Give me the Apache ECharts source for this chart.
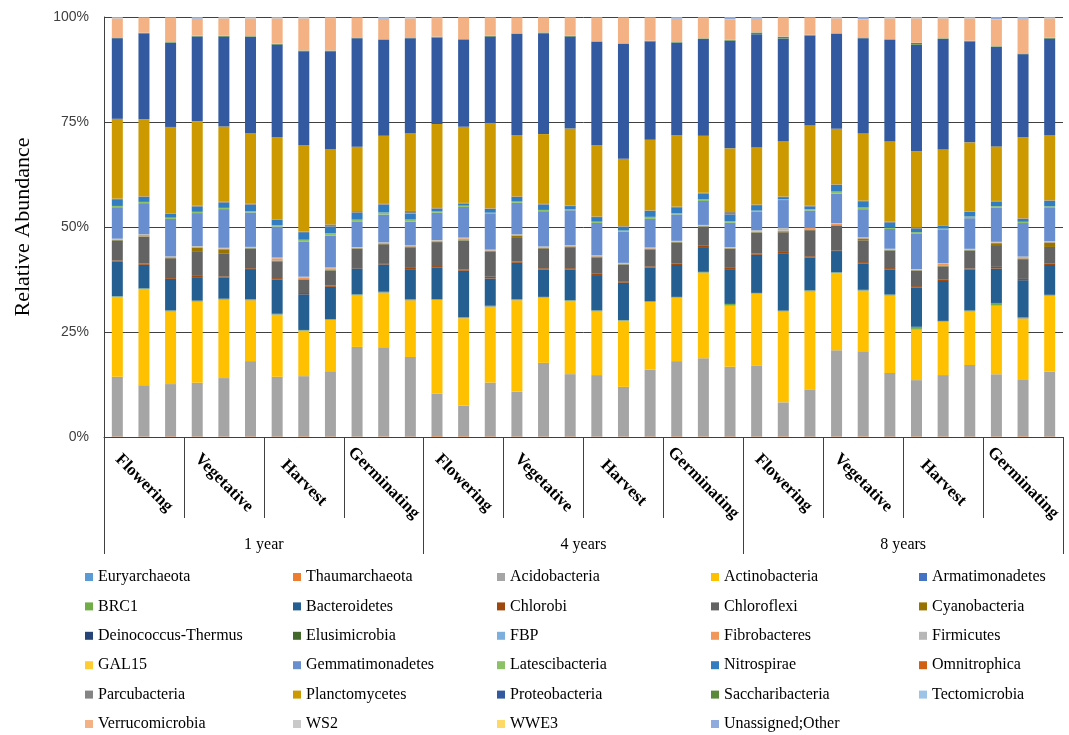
<!DOCTYPE html>
<html>
<head>
<meta charset="utf-8">
<title>Relative Abundance of bacterial phyla</title>
<script src="https://cdn.jsdelivr.net/npm/echarts@6/dist/echarts.min.js"></script>
<style>
  html, body { margin: 0; padding: 0; background: #ffffff; }
  #chart { width: 1069px; height: 735px; }
</style>
</head>
<body>
<div id="chart"></div>
<script>
// Samples: 3 stand ages x 4 growth stages x 3 replicates
const years = ['1 year', '4 years', '8 years'];
const stages = ['Flowering', 'Vegetative', 'Harvest', 'Germinating'];
const replicates = ['1', '2', '3'];
const yTicks = [0, 25, 50, 75, 100];

// Relative abundance (%) of each phylum, one value per sample (36 samples)
const Euryarchaeota = [0.05,0.04,0.06,0.05,0.03,0.05,0.04,0.06,0.05,0.04,0.05,0.05, 0.06,0.05,0.04,0.05,0.05,0.06,0.05,0.04,0.05,0.05,0.06,0.05, 0.05,0.04,0.05,0.06,0.05,0.05,0.04,0.05,0.05,0.06,0.05,0.04];
const Thaumarchaeota = [0.10,0.08,0.12,0.10,0.09,0.11,0.10,0.12,0.10,0.08,0.10,0.09, 0.15,0.14,0.12,0.10,0.09,0.10,0.08,0.09,0.10,0.12,0.10,0.11, 0.10,0.12,0.09,0.10,0.11,0.10,0.12,0.10,0.09,0.10,0.13,0.10];
const Acidobacteria = [14.2,12.2,12.4,12.8,13.9,17.9,14.2,14.3,15.5,21.3,21.2,18.9, 10.1,7.3,12.8,10.6,17.5,14.8,14.6,11.8,15.9,17.9,18.6,16.6, 16.8,8.1,11.2,20.5,20.3,15.1,13.4,14.6,17.0,14.8,13.4,15.4];
const Actinobacteria = [19.0,22.9,17.3,19.4,18.7,14.5,14.8,10.8,12.2,12.3,13.0,13.5, 22.3,20.8,18.1,21.8,15.5,17.4,15.2,15.7,16.1,15.1,20.4,14.6, 17.2,21.7,23.4,18.4,14.4,18.5,12.1,12.7,12.8,16.4,14.7,18.1];
const Armatimonadetes = [0.10,0.08,0.10,0.09,0.10,0.11,0.10,0.09,0.10,0.08,0.10,0.10, 0.09,0.10,0.11,0.10,0.09,0.10,0.10,0.09,0.10,0.10,0.08,0.10, 0.10,0.09,0.10,0.11,0.10,0.09,0.10,0.10,0.09,0.10,0.10,0.11];
const BRC1 = [0.10,0.09,0.10,0.10,0.08,0.10,0.11,0.10,0.09,0.10,0.10,0.09, 0.10,0.10,0.09,0.10,0.10,0.11,0.10,0.09,0.10,0.10,0.10,0.30, 0.10,0.09,0.10,0.10,0.11,0.10,0.50,0.10,0.09,0.50,0.10,0.10];
const Bacteroidetes = [8.2,5.6,7.5,5.6,5.0,7.2,8.2,8.5,7.7,6.2,6.5,7.2, 7.6,11.1,6.5,8.7,6.5,7.3,8.4,8.9,8.0,7.6,5.9,8.3, 9.1,13.7,7.8,4.8,6.3,6.0,9.4,9.5,9.7,8.2,8.9,7.1];
const Chlorobi = [0.3,0.3,0.2,0.3,0.3,0.2,0.3,0.3,0.3,0.3,0.3,0.3, 0.3,0.3,0.4,0.3,0.3,0.3,0.3,0.2,0.3,0.3,0.3,0.3, 0.3,0.3,0.3,0.3,0.3,0.3,0.3,0.3,0.3,0.4,0.3,0.3];
const Chloroflexi = [4.7,6.3,4.7,5.9,5.5,4.6,4.0,3.1,3.5,4.3,4.5,4.9, 5.7,6.8,6.0,5.6,4.7,5.0,3.9,4.0,4.0,5.0,4.5,4.5, 4.9,4.7,6.2,5.9,5.2,4.1,3.6,3.1,4.2,5.2,4.7,4.0];
const Cyanobacteria = [0.1,0.1,0.1,0.8,0.9,0.1,0.1,0.1,0.1,0.1,0.1,0.1, 0.1,0.1,0.1,0.5,0.1,0.1,0.1,0.1,0.1,0.1,0.1,0.1, 0.1,0.1,0.1,0.1,0.1,0.1,0.1,0.1,0.1,0.4,0.1,1.0];
const DeinococcusThermus = [0.03,0.02,0.03,0.03,0.02,0.03,0.03,0.04,0.03,0.02,0.03,0.03, 0.03,0.02,0.03,0.03,0.03,0.02,0.03,0.03,0.04,0.03,0.03,0.02, 0.03,0.08,0.03,0.03,0.02,0.03,0.03,0.03,0.02,0.03,0.03,0.03];
const Elusimicrobia = [0.05,0.04,0.05,0.05,0.06,0.05,0.05,0.04,0.05,0.05,0.05,0.06, 0.05,0.05,0.04,0.05,0.05,0.05,0.06,0.05,0.05,0.04,0.05,0.05, 0.05,0.05,0.06,0.05,0.30,0.05,0.05,0.04,0.05,0.05,0.05,0.05];
const FBP = [0.03,0.03,0.02,0.03,0.03,0.03,0.04,0.03,0.03,0.03,0.02,0.03, 0.03,0.03,0.03,0.02,0.03,0.03,0.03,0.04,0.03,0.03,0.03,0.03, 0.02,0.03,0.03,0.03,0.03,0.04,0.03,0.03,0.03,0.03,0.02,0.03];
const Fibrobacteres = [0.10,0.30,0.08,0.10,0.12,0.10,0.50,0.40,0.40,0.10,0.09,0.10, 0.10,0.40,0.10,0.08,0.10,0.12,0.10,0.10,0.10,0.09,0.10,0.10, 0.10,0.10,0.30,0.30,0.10,0.12,0.10,0.50,0.10,0.10,0.09,0.10];
const Firmicutes = [0.15,0.15,0.14,0.15,0.16,0.15,0.15,0.14,0.15,0.15,0.15,0.16, 0.15,0.14,0.15,0.15,0.15,0.15,0.16,0.15,0.15,0.14,0.15,0.15, 0.30,0.60,0.15,0.15,0.14,0.15,0.15,0.15,0.16,0.15,0.30,0.15];
const GAL15 = [0.02,0.02,0.02,0.03,0.02,0.02,0.02,0.02,0.03,0.02,0.02,0.02, 0.02,0.03,0.02,0.02,0.02,0.02,0.02,0.03,0.02,0.02,0.02,0.02, 0.02,0.02,0.02,0.03,0.02,0.02,0.02,0.02,0.02,0.02,0.03,0.02];
const Gemmatimonadetes = [7.5,7.4,8.9,7.9,9.2,8.2,7.4,8.4,7.6,6.1,6.6,5.6, 6.5,7.3,8.5,7.5,8.4,8.3,7.7,7.4,6.8,6.3,5.7,5.8, 4.4,6.7,4.0,7.0,6.7,4.7,8.5,7.9,7.3,8.1,8.0,7.9];
const Latescibacteria = [0.3,0.3,0.3,0.3,0.3,0.3,0.3,0.4,0.6,0.4,0.5,0.5, 0.3,0.3,0.3,0.3,0.3,0.3,0.3,0.3,0.5,0.3,0.4,0.4, 0.3,0.2,0.3,0.5,0.4,0.3,0.3,0.3,0.4,0.4,0.3,0.4];
const Nitrospirae = [1.6,1.2,0.9,1.3,1.3,1.6,1.3,1.8,1.6,1.6,1.9,1.4, 0.7,0.5,0.9,1.1,1.3,0.7,1.1,0.9,1.4,1.4,1.4,1.6, 1.3,0.5,0.7,1.6,1.5,1.3,0.9,0.7,1.1,1.1,0.7,1.3];
const Omnitrophica = [0.05,0.05,0.04,0.05,0.05,0.06,0.05,0.05,0.05,0.04,0.05,0.05, 0.05,0.06,0.05,0.05,0.04,0.05,0.05,0.05,0.05,0.06,0.05,0.05, 0.05,0.05,0.04,0.05,0.05,0.05,0.06,0.05,0.05,0.05,0.05,0.04];
const Parcubacteria = [0.10,0.10,0.12,0.10,0.09,0.10,0.10,0.10,0.40,0.40,0.10,0.60, 0.10,0.11,0.10,0.10,0.10,0.09,0.10,0.10,0.10,0.10,0.12,0.50, 0.10,0.10,0.10,0.09,0.10,0.10,0.10,0.11,0.10,0.10,0.10,0.10];
const Planctomycetes = [19.0,18.3,20.5,20.2,17.9,16.8,19.6,20.6,17.9,15.3,16.2,18.5, 20.0,18.1,20.3,14.6,16.6,18.3,17.0,16.0,16.8,17.0,13.6,15.2, 13.6,13.1,19.1,13.2,16.0,19.1,18.2,18.0,16.4,13.0,19.3,15.4];
const Proteobacteria = [19.2,20.4,20.0,20.2,21.4,22.9,22.0,22.3,23.3,25.8,22.8,22.6, 20.6,20.7,20.6,24.0,24.0,21.9,24.5,27.3,23.4,22.0,23.0,25.7, 27.0,24.6,21.4,22.6,22.7,24.2,25.4,26.3,24.0,23.7,19.8,23.1];
const Saccharibacteria = [0.15,0.15,0.14,0.15,0.15,0.16,0.15,0.15,0.15,0.14,0.15,0.15, 0.15,0.15,0.16,0.15,0.15,0.15,0.15,0.14,0.15,0.15,0.15,0.15, 0.40,0.40,0.15,0.15,0.15,0.16,0.40,0.15,0.15,0.15,0.15,0.14];
const Tectomicrobia = [0.05,0.05,0.04,0.05,0.05,0.05,0.06,0.05,0.05,0.05,0.05,0.04, 0.05,0.05,0.05,0.06,0.05,0.05,0.05,0.04,0.05,0.05,0.05,0.05, 0.05,0.06,0.05,0.05,0.05,0.04,0.05,0.05,0.05,0.05,0.06,0.05];
const Verrucomicrobia = [4.5,3.5,5.7,4.0,4.1,4.2,6.0,7.6,7.7,4.7,4.8,4.5, 4.4,5.0,4.2,3.7,3.4,4.2,5.5,6.0,5.4,5.5,4.8,4.9, 3.2,4.4,4.0,3.5,4.3,4.9,5.8,4.7,5.3,6.4,8.2,4.6];
const WS2 = [0.03,0.03,0.03,0.02,0.03,0.03,0.03,0.03,0.04,0.03,0.03,0.03, 0.03,0.02,0.03,0.03,0.03,0.03,0.03,0.03,0.03,0.04,0.03,0.03, 0.03,0.03,0.02,0.03,0.03,0.03,0.03,0.03,0.03,0.03,0.03,0.02];
const WWE3 = [0.02,0.02,0.02,0.02,0.03,0.02,0.02,0.02,0.02,0.02,0.02,0.02, 0.03,0.02,0.02,0.02,0.02,0.02,0.02,0.02,0.02,0.02,0.03,0.02, 0.02,0.02,0.02,0.02,0.02,0.03,0.02,0.02,0.02,0.02,0.02,0.02];
const UnassignedOther = [0.3,0.2,0.2,0.4,0.3,0.3,0.3,0.3,0.2,0.1,0.4,0.3, 0.2,0.2,0.2,0.1,0.2,0.2,0.2,0.2,0.2,0.4,0.2,0.5, 0.4,0.2,0.2,0.3,0.5,0.3,0.3,0.3,0.3,0.5,0.4,0.3];

// Stacking order (bottom to top) and legend order
const phyla = [
  ['Euryarchaeota', Euryarchaeota, '#5B9BD5'],
  ['Thaumarchaeota', Thaumarchaeota, '#ED7D31'],
  ['Acidobacteria', Acidobacteria, '#A5A5A5'],
  ['Actinobacteria', Actinobacteria, '#FFC000'],
  ['Armatimonadetes', Armatimonadetes, '#4472C4'],
  ['BRC1', BRC1, '#70AD47'],
  ['Bacteroidetes', Bacteroidetes, '#255E91'],
  ['Chlorobi', Chlorobi, '#9E480E'],
  ['Chloroflexi', Chloroflexi, '#636363'],
  ['Cyanobacteria', Cyanobacteria, '#997300'],
  ['Deinococcus-Thermus', DeinococcusThermus, '#264478'],
  ['Elusimicrobia', Elusimicrobia, '#43682B'],
  ['FBP', FBP, '#7CAFDD'],
  ['Fibrobacteres', Fibrobacteres, '#F1975A'],
  ['Firmicutes', Firmicutes, '#B7B7B7'],
  ['GAL15', GAL15, '#FFCD33'],
  ['Gemmatimonadetes', Gemmatimonadetes, '#698ED0'],
  ['Latescibacteria', Latescibacteria, '#8CC168'],
  ['Nitrospirae', Nitrospirae, '#327DC2'],
  ['Omnitrophica', Omnitrophica, '#D26012'],
  ['Parcubacteria', Parcubacteria, '#848484'],
  ['Planctomycetes', Planctomycetes, '#CC9A00'],
  ['Proteobacteria', Proteobacteria, '#335AA1'],
  ['Saccharibacteria', Saccharibacteria, '#5A8A39'],
  ['Tectomicrobia', Tectomicrobia, '#9DC3E6'],
  ['Verrucomicrobia', Verrucomicrobia, '#F4B183'],
  ['WS2', WS2, '#C9C9C9'],
  ['WWE3', WWE3, '#FFD966'],
  ['Unassigned;Other', UnassignedOther, '#8FAADC']
];

// Category lists for the three x-axis levels
const sampleCats = [];
const stageCats = [];
years.forEach(function (y) {
  stages.forEach(function (s) {
    stageCats.push(s + ' (' + y + ')');
    replicates.forEach(function (r) { sampleCats.push(y + ' ' + s + ' ' + r); });
  });
});

// 100% stacked columns: each sample is scaled to its own total
const totals = sampleCats.map(function (_, i) {
  return phyla.reduce(function (acc, p) { return acc + p[1][i]; }, 0);
});

const serif = 'Liberation Serif, Times New Roman, serif';
const axisColor = '#404040';

const series = phyla.map(function (p) {
  return {
    name: p[0],
    type: 'bar',
    stack: 'abundance',
    xAxisIndex: 0,
    barWidth: 11,
    itemStyle: { color: p[2] },
    emphasis: { disabled: true },
    data: p[1].map(function (v, i) { return v / totals[i] * 100; })
  };
});

// Legend laid out in five columns, filled row by row
const legendCols = 5;
const legendLeft = [85, 293, 497, 711, 919];
const legends = legendLeft.map(function (x, c) {
  const names = phyla.filter(function (_, k) { return k % legendCols === c; })
                     .map(function (p) { return p[0]; });
  return {
    type: 'plain',
    orient: 'vertical',
    left: x,
    top: 567,
    width: 200,
    height: 200,
    data: names,
    icon: 'rect',
    itemWidth: 8,
    itemHeight: 8,
    itemGap: 9.4,
    padding: 0,
    selectedMode: false,
    textStyle: { fontFamily: serif, fontSize: 16, color: '#000', lineHeight: 20, padding: [0, 0, 0, 0] }
  };
});

const chart = echarts.init(document.getElementById('chart'), null, { renderer: 'canvas' });
chart.setOption({
  animation: false,
  backgroundColor: '#ffffff',
  grid: { left: 104, right: 6, top: 17, bottom: 298, containLabel: false },
  legend: legends,
  xAxis: [
    {
      type: 'category',
      data: sampleCats,
      axisLine: { show: true, lineStyle: { color: axisColor, width: 1 } },
      axisTick: { show: false },
      axisLabel: { show: false },
      splitLine: { show: false }
    },
    {
      type: 'category',
      data: stageCats,
      position: 'bottom',
      axisLine: { show: false },
      axisTick: { show: true, length: 81, lineStyle: { color: axisColor, width: 1 } },
      axisLabel: {
        show: true,
        interval: 0,
        rotate: -45,
        align: 'center',
        verticalAlign: 'middle',
        margin: 46,
        fontFamily: serif,
        fontSize: 17,
        fontWeight: 'bold',
        color: '#000',
        formatter: function (v) { return v.split(' (')[0]; }
      },
      splitLine: { show: false }
    },
    {
      type: 'category',
      data: years,
      position: 'bottom',
      axisLine: { show: false },
      axisTick: { show: true, length: 117, lineStyle: { color: axisColor, width: 1 } },
      axisLabel: {
        show: true,
        interval: 0,
        verticalAlign: 'middle',
        margin: 108,
        fontFamily: serif,
        fontSize: 16,
        color: '#000'
      },
      splitLine: { show: false }
    }
  ],
  yAxis: {
    type: 'value',
    min: yTicks[0],
    max: yTicks[yTicks.length - 1],
    interval: yTicks[1] - yTicks[0],
    name: 'Relative Abundance',
    nameLocation: 'middle',
    nameGap: 70,
    nameRotate: 90,
    nameTextStyle: { fontFamily: serif, fontSize: 22, color: '#000' },
    axisLine: { show: true, lineStyle: { color: axisColor, width: 1 } },
    axisTick: { show: false },
    axisLabel: {
      margin: 15,
      fontFamily: 'Liberation Sans, Arial, sans-serif',
      fontSize: 14,
      color: '#404040',
      formatter: '{value}%'
    },
    splitLine: { show: true, lineStyle: { color: axisColor, width: 1 } }
  },
  series: series
});
</script>
</body>
</html>
